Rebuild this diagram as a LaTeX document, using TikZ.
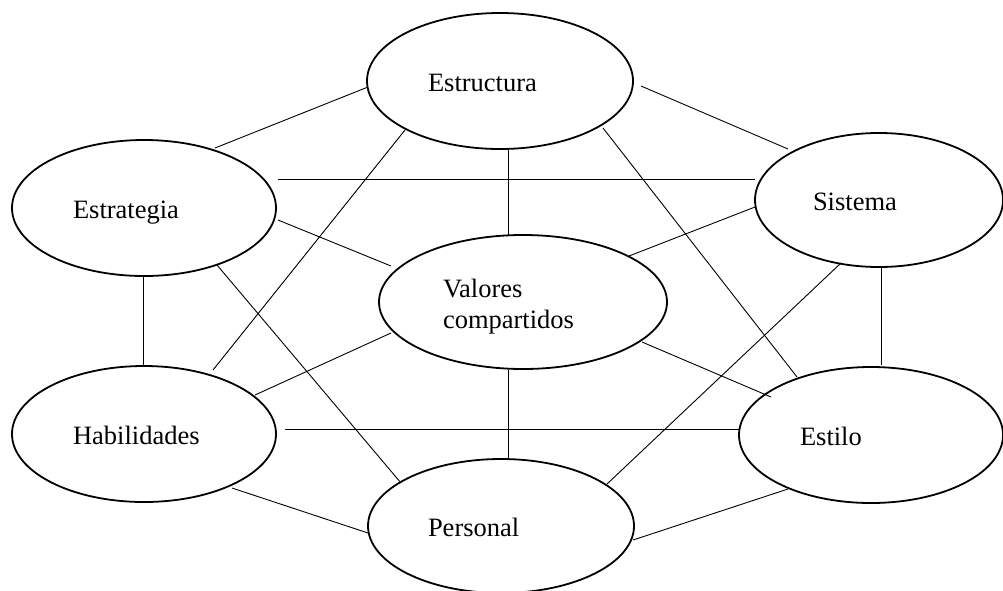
\documentclass[tikz,border=0pt]{standalone}
\usepackage{fontspec}
\setmainfont{Liberation Serif}
\usetikzlibrary{shapes.geometric}
\begin{document}
\begin{tikzpicture}[x=1pt,y=-1pt,
  ell/.style={ellipse, draw, line width=1.8pt, inner sep=0pt, align=left,
    text height=20pt, text depth=0pt,
    font=\fontsize{26.5}{31}\selectfont},
  link/.style={line width=0.9pt}]
\useasboundingbox (0,0) rectangle (1003,590);
\fill[white] (0,0) rectangle (1003,590);
% ellipses
\node[ell, minimum width=266pt, minimum height=136pt, text width=144pt] (es) at (500,81) {Estructura};
\node[ell, minimum width=264pt, minimum height=136pt, text width=142pt] (eg) at (144,208) {Estrategia};
\node[ell, minimum width=248pt, minimum height=134pt, text width=132pt] (si) at (879,200) {Sistema};
\node[ell, minimum width=288pt, minimum height=134pt, text width=160pt, text depth=30pt] (vc) at (523,302) {Valores\\compartidos};
\node[ell, minimum width=264pt, minimum height=136pt, text width=142pt] (ha) at (144,434) {Habilidades};
\node[ell, minimum width=264pt, minimum height=136pt, text width=142pt] (el) at (871,435) {Estilo};
\node[ell, minimum width=266pt, minimum height=134pt, text width=146pt] (pe) at (501,526) {Personal};
% connectors
\draw[link] ([shift={(-132,6)}]es.center) -- ([shift={(71,-60)}]eg.center);
\draw[link] ([shift={(141,5)}]es.center) -- ([shift={(-91,-51)}]si.center);
\draw[link] ([shift={(134,-29)}]eg.center) -- ([shift={(-124,-21)}]si.center);
\draw[link] ([shift={(134,12)}]eg.center) -- ([shift={(-132,-36)}]vc.center);
\draw[link] ([shift={(8,69)}]es.center) -- ([shift={(-15,-67)}]vc.center);
\draw[link] ([shift={(-95,49)}]es.center) -- ([shift={(69,-64)}]ha.center);
\draw[link] ([shift={(103,47)}]es.center) -- ([shift={(-74,-58)}]el.center);
\draw[link] ([shift={(-124,7)}]si.center) -- ([shift={(106,-46)}]vc.center);
\draw[link] ([shift={(-1,67)}]eg.center) -- ([shift={(-1,-69)}]ha.center);
\draw[link] ([shift={(2,67)}]si.center) -- ([shift={(10,-70)}]el.center);
\draw[link] ([shift={(73,57)}]eg.center) -- ([shift={(-100,-43)}]pe.center);
\draw[link] ([shift={(-38,63)}]si.center) -- ([shift={(106,-42)}]pe.center);
\draw[link] ([shift={(-132,31)}]vc.center) -- ([shift={(111,-39)}]ha.center);
\draw[link] ([shift={(119,40)}]vc.center) -- ([shift={(-100,-38)}]el.center);
\draw[link] ([shift={(-15,68)}]vc.center) -- ([shift={(7,-67)}]pe.center);
\draw[link] ([shift={(141,-5)}]ha.center) -- ([shift={(-131,-6)}]el.center);
\draw[link] ([shift={(88,54)}]ha.center) -- ([shift={(-133,7)}]pe.center);
\draw[link] ([shift={(132,14)}]pe.center) -- ([shift={(-83,54)}]el.center);
\end{tikzpicture}
\end{document}
